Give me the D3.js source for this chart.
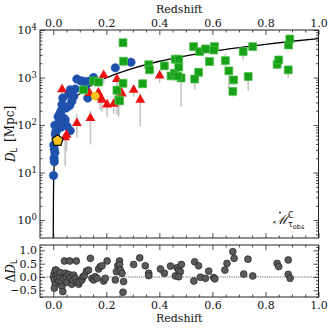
<!DOCTYPE html>
<html>
<head>
<meta charset="utf-8">
<script src="https://cdn.jsdelivr.net/npm/d3@7"></script>
<style>
  html, body { margin: 0; padding: 0; background: #fff; }
  svg { display: block; font-family: "DejaVu Serif", serif; }
</style>
</head>
<body>
<svg id="chart" width="332" height="332"></svg>
<script>
// --- datos ---
// curva del modelo (z, D_L en Mpc)
const lineZ = [0, 0.0001, 0.0003, 0.001, 0.003, 0.01, 0.02, 0.04, 0.07, 0.1, 0.15, 0.2, 0.3, 0.4, 0.5, 0.6, 0.7, 0.8, 0.9, 1.0];
const lineD = [0.3, 0.43, 1.3, 4.3, 13, 43, 87, 178, 320, 460, 720, 980, 1550, 2200, 2850, 3550, 4250, 5000, 5800, 6600];

// círculos azules
const blueZ = [0.001, 0.004, 0.003, 0.006, 0.004, 0.002, 0.008, 0.011, 0.006, 0.015, 0.020, 0.029, 0.036, 0.045, 0.026, 0.064, 0.052, 0.039, 0.029, 0.036, 0.033, 0.049, 0.062, 0.070, 0.077, 0.058, 0.036, 0.064, 0.083, 0.089, 0.104, 0.114, 0.133, 0.152, 0.156, 0.121, 0.130, 0.234, 0.293, 0.010, 0.018, 0.024];
const blueD = [8.7, 17, 20, 26, 31, 38, 63, 76, 99, 82, 110, 90, 110, 129, 129, 76, 94, 141, 195, 229, 270, 229, 257, 316, 400, 446, 370, 550, 575, 930, 850, 830, 830, 1000, 850, 600, 370, 1600, 2100, 70, 150, 170];

// triángulos rojos con barras de error
const redZ  = [0.033, 0.045, 0.050, 0.089, 0.137, 0.140, 0.170, 0.177, 0.184, 0.190, 0.203, 0.228, 0.240, 0.253, 0.259, 0.303, 0.328, 0.401];
const redD  = [560, 55, 62, 110, 470, 140, 480, 380, 340, 1120, 270, 280, 920, 510, 460, 550, 340, 1100];
const redLo = [240, 14, 28, 55, 330, 39, 300, 210, 190, 720, 150, 170, 600, 300, 260, 400, 93, 780];
const redHi = [700, 70, 90, 170, 560, 200, 560, 560, 420, 1300, 330, 340, 1050, 620, 560, 650, 480, 1300];

// cuadrados verdes con barras de error
const greenZ  = [0.114, 0.152, 0.171, 0.240, 0.247, 0.263, 0.265, 0.263, 0.250, 0.337, 0.360, 0.363, 0.419, 0.444, 0.457, 0.460, 0.473, 0.473, 0.482, 0.470, 0.529, 0.552, 0.574, 0.608, 0.605, 0.589, 0.548, 0.533, 0.649, 0.662, 0.680, 0.677, 0.716, 0.752, 0.735, 0.844, 0.850, 0.887, 0.892, 0.886];
const greenD  = [550, 850, 800, 540, 340, 5400, 2200, 760, 325, 740, 1860, 1450, 1760, 1080, 1230, 2430, 2430, 1660, 980, 1070, 4470, 3510, 4000, 4470, 3800, 2170, 1290, 930, 2270, 1380, 890, 510, 3510, 4470, 1050, 1900, 2340, 4840, 6460, 1450];
const greenLo = [480, 760, 700, 165, 150, 5000, 1900, 600, 250, 640, 1600, 1250, 1500, 900, 1050, 2200, 2200, 1400, 245, 900, 4100, 3200, 3700, 4100, 3500, 1900, 1100, 560, 1700, 600, 700, 400, 2400, 4100, 520, 1500, 1500, 4400, 6000, 1000];
const greenHi = [620, 950, 900, 620, 400, 5800, 2500, 850, 360, 840, 2100, 1650, 2000, 1250, 1400, 2650, 2650, 1900, 1100, 1200, 4800, 3800, 4300, 4800, 4100, 2450, 1450, 1000, 3200, 1500, 1000, 600, 3700, 4800, 1200, 2100, 2900, 5200, 7000, 1650];

// puntos amarillos
const pentZ = [0.016], pentD = [47];
const yellowZ = [0.158], yellowD = [410];

// residuos (panel inferior)
const resZ = [0.008, 0.004, 0.001, 0.004, 0.008, 0.004, 0.011, 0.014, 0.016, 0.020, 0.024, 0.026, 0.029, 0.033, 0.036, 0.039, 0.042, 0.045, 0.049, 0.052, 0.058, 0.062, 0.064, 0.070, 0.074, 0.077, 0.083, 0.087, 0.089, 0.096, 0.099, 0.108, 0.112, 0.117, 0.125, 0.133, 0.140, 0.146, 0.152, 0.158, 0.165, 0.171, 0.177, 0.184, 0.190, 0.196, 0.203, 0.234, 0.238, 0.243, 0.250, 0.250, 0.253, 0.259, 0.263, 0.265, 0.303, 0.326, 0.347, 0.360, 0.360, 0.404, 0.419, 0.442, 0.460, 0.467, 0.473, 0.479, 0.483, 0.473, 0.530, 0.533, 0.548, 0.555, 0.574, 0.586, 0.605, 0.609, 0.647, 0.655, 0.677, 0.682, 0.718, 0.734, 0.752, 0.844, 0.850, 0.886, 0.886, 0.893];
const resD = [0.26, 0.14, 0.01, -0.11, -0.27, -0.42, 0.26, 0.07, -0.05, -0.15, 0.01, 0.17, -0.17, -0.36, -0.55, -0.05, 0.60, 0.14, 0.01, -0.20, 0.10, 0.60, -0.02, -0.27, -0.11, 0.07, -0.05, 0.60, -0.20, -0.27, -0.17, -0.11, 0.01, 0.05, 0.22, 0.26, 0.70, -0.05, -0.11, 0.01, -0.05, 0.30, 0.39, 0.42, -0.15, -0.05, 0.60, -0.11, 0.20, 0.42, 0.60, 0.47, 0.26, 0.14, -0.57, -0.17, 0.47, 0.72, 0.42, 0.14, 0.05, 0.30, 0.14, 0.41, 0.04, 0.35, 0.26, 0.20, 0.47, 0.01, -0.15, 0.57, 0.42, -0.01, -0.05, 0.22, -0.02, -0.07, 0.26, 0.51, 0.95, 0.70, 0.11, 0.67, 0.04, 0.51, 0.39, 0.64, 0.10, -0.05];

const zTicks = [0, 0.2, 0.4, 0.6, 0.8, 1.0];

// --- geometría ---
const svg = d3.select('#chart');
const L = 40, R = 318.5;
const top1 = 30, bot1 = 238;
const top2 = 245, bot2 = 297;
const FS = '11px';

const x = d3.scaleLinear().domain([-0.05, 1.0]).range([L, R]);
const y = d3.scaleLog().domain([0.42, 1e4]).range([bot1, top1]);
const yr = d3.scaleLinear().domain([-0.75, 1.2]).range([bot2, top2]);

const minorZ = d3.range(0, 1.0001, 0.05).filter(v => Math.abs(v * 5 - Math.round(v * 5)) > 1e-6);
const majorY = y.ticks().filter(v => Math.abs(Math.log10(v) - Math.round(Math.log10(v))) < 1e-6);
const minorY = y.ticks().filter(v => Math.abs(Math.log10(v) - Math.round(Math.log10(v))) > 1e-6);
const majorR = [-0.5, 0, 0.5, 1.0];
const minorR = d3.range(-0.75, 1.2, 0.125).filter(v => Math.abs(v * 2 - Math.round(v * 2)) > 1e-6);

function styleAxis(g) {
  g.select('.domain').remove();
  g.selectAll('.tick line').attr('stroke', '#222').attr('stroke-width', 0.8);
  g.selectAll('.tick text').attr('font-family', '"DejaVu Serif", serif').attr('font-size', FS).attr('fill', '#111');
}

function xAxes(t, b, labelTop, labelBottom) {
  svg.append('g').attr('transform', `translate(0,${t})`)
    .call(d3.axisTop(x).tickValues(zTicks).tickSize(-5).tickPadding(3)
      .tickFormat(labelTop ? d3.format('.1f') : ''))
    .call(styleAxis);
  svg.append('g').attr('transform', `translate(0,${t})`)
    .call(d3.axisTop(x).tickValues(minorZ).tickSize(-2.5).tickFormat(''))
    .call(styleAxis);
  svg.append('g').attr('transform', `translate(0,${b})`)
    .call(d3.axisBottom(x).tickValues(zTicks).tickSize(-5).tickPadding(4)
      .tickFormat(labelBottom ? d3.format('.1f') : ''))
    .call(styleAxis);
  svg.append('g').attr('transform', `translate(0,${b})`)
    .call(d3.axisBottom(x).tickValues(minorZ).tickSize(-2.5).tickFormat(''))
    .call(styleAxis);
}

// --- panel superior ---
const clip = svg.append('clipPath').attr('id', 'clipTop');
clip.append('rect').attr('x', L).attr('y', top1).attr('width', R - L).attr('height', bot1 - top1);

const gTop = svg.append('g').attr('clip-path', 'url(#clipTop)');

const lineData = lineZ.map((z, i) => [z, lineD[i]]);
gTop.append('path')
  .attr('d', d3.line().x(d => x(d[0])).y(d => y(d[1])).curve(d3.curveMonotoneX)(lineData))
  .attr('fill', 'none').attr('stroke', '#000').attr('stroke-width', 1.3);

// barras de error
const errs = redZ.map((z, i) => [z, redLo[i], redHi[i]])
  .concat(greenZ.map((z, i) => [z, greenLo[i], greenHi[i]]));
gTop.selectAll('.err').data(errs).enter().append('line')
  .attr('class', 'err')
  .attr('x1', d => x(d[0])).attr('x2', d => x(d[0]))
  .attr('y1', d => y(d[1])).attr('y2', d => y(d[2]))
  .attr('stroke', '#c4c4c4').attr('stroke-width', 1.6);

// círculos azules
gTop.selectAll('.blue').data(blueZ.map((z, i) => [z, blueD[i]])).enter().append('circle')
  .attr('class', 'blue')
  .attr('cx', d => x(d[0])).attr('cy', d => y(d[1])).attr('r', 4.3)
  .attr('fill', '#1c50aa').attr('stroke', '#2a5cb3').attr('stroke-width', 0.5);

// triángulos rojos
gTop.selectAll('.red').data(redZ.map((z, i) => [z, redD[i]])).enter().append('path')
  .attr('class', 'red')
  .attr('transform', d => `translate(${x(d[0])},${y(d[1])})`)
  .attr('d', d3.symbol(d3.symbolTriangle, 42))
  .attr('fill', '#ee1111');

// cuadrados verdes
gTop.selectAll('.green').data(greenZ.map((z, i) => [z, greenD[i]])).enter().append('path')
  .attr('class', 'green')
  .attr('transform', d => `translate(${x(d[0])},${y(d[1])})`)
  .attr('d', d3.symbol(d3.symbolSquare, 62))
  .attr('fill', '#17a117').attr('stroke', '#4cbf4c').attr('stroke-width', 0.8);

// pentágono amarillo
const pentagon = {
  draw(ctx, size) {
    const r = Math.sqrt(size / 2.378);
    for (let k = 0; k < 5; k++) {
      const a = -Math.PI / 2 + k * 2 * Math.PI / 5;
      if (k === 0) ctx.moveTo(r * Math.cos(a), r * Math.sin(a));
      else ctx.lineTo(r * Math.cos(a), r * Math.sin(a));
    }
    ctx.closePath();
  }
};
gTop.selectAll('.pent').data(pentZ.map((z, i) => [z, pentD[i]])).enter().append('path')
  .attr('class', 'pent')
  .attr('transform', d => `translate(${x(d[0])},${y(d[1])})`)
  .attr('d', d3.symbol(pentagon, 80))
  .attr('fill', '#f6c419').attr('stroke', '#111').attr('stroke-width', 1.3);

gTop.selectAll('.yel').data(yellowZ.map((z, i) => [z, yellowD[i]])).enter().append('circle')
  .attr('class', 'yel')
  .attr('cx', d => x(d[0])).attr('cy', d => y(d[1])).attr('r', 4.3)
  .attr('fill', '#f6c419');

// marco
svg.append('rect').attr('x', L).attr('y', top1).attr('width', R - L).attr('height', bot1 - top1)
  .attr('fill', 'none').attr('stroke', '#222').attr('stroke-width', 1);

xAxes(top1, bot1, true, false);

// ejes y (log)
function yLogAxis(axisFn, xpos, labels) {
  const g = svg.append('g').attr('transform', `translate(${xpos},0)`)
    .call(axisFn(y).tickValues(majorY).tickSize(-5).tickPadding(3).tickFormat(labels ? d => d : ''))
    .call(styleAxis);
  if (labels) {
    g.selectAll('.tick text').each(function (d) {
      const t = d3.select(this);
      t.text('10');
      t.append('tspan').attr('dy', '-0.45em').attr('font-size', '8.5px').text(Math.round(Math.log10(d)));
    });
  }
  svg.append('g').attr('transform', `translate(${xpos},0)`)
    .call(axisFn(y).tickValues(minorY).tickSize(-2.5).tickFormat(''))
    .call(styleAxis);
}
yLogAxis(d3.axisLeft, L, true);
yLogAxis(d3.axisRight, R, false);

// títulos
svg.append('text').attr('x', (L + R) / 2).attr('y', 13).attr('text-anchor', 'middle')
  .attr('font-size', FS).attr('fill', '#111').text('Redshift');

const yl = svg.append('text')
  .attr('transform', `translate(15,${(top1 + bot1) / 2}) rotate(-90)`)
  .attr('text-anchor', 'middle').attr('font-size', '12px').attr('fill', '#111');
yl.append('tspan').attr('font-style', 'italic').text('D');
yl.append('tspan').attr('dy', '0.3em').attr('font-size', '8px').attr('font-family', '"DejaVu Sans", sans-serif').text('L');
yl.append('tspan').attr('dy', '-0.3em').text('\u2002[Mpc]');

// anotación
const ann = svg.append('g').attr('transform', 'translate(273,224)');
ann.append('text').attr('font-family', '"DejaVu Serif", serif').attr('font-style', 'italic')
  .attr('font-size', '13px').attr('fill', '#111').text('\u2133');
ann.append('circle').attr('cx', 7).attr('cy', -11.5).attr('r', 0.9).attr('fill', '#111');
ann.append('text').attr('x', 15).attr('y', -6).attr('font-family', '"DejaVu Sans", sans-serif')
  .attr('font-size', '8px').attr('fill', '#111').text('C');
const sub = ann.append('text').attr('x', 15).attr('y', 3).attr('font-family', '"DejaVu Sans", sans-serif')
  .attr('font-size', '8px').attr('fill', '#111');
sub.append('tspan').text('\u03c4');
sub.append('tspan').attr('dy', '1.5').attr('font-size', '6.5px').text('obs');

// --- panel inferior ---
svg.append('line').attr('x1', L).attr('x2', R).attr('y1', yr(0)).attr('y2', yr(0))
  .attr('stroke', '#9a9a9a').attr('stroke-width', 1.6).attr('stroke-dasharray', '1.2,1');

svg.selectAll('.res').data(resZ.map((z, i) => [z, resD[i]])).enter().append('circle')
  .attr('class', 'res')
  .attr('cx', d => x(d[0])).attr('cy', d => yr(d[1])).attr('r', 3.4)
  .attr('fill', '#5a5a5a').attr('stroke', '#222').attr('stroke-width', 0.7);

svg.append('rect').attr('x', L).attr('y', top2).attr('width', R - L).attr('height', bot2 - top2)
  .attr('fill', 'none').attr('stroke', '#222').attr('stroke-width', 1);

xAxes(top2, bot2, false, true);

svg.append('g').attr('transform', `translate(${L},0)`)
  .call(d3.axisLeft(yr).tickValues(majorR).tickSize(-5).tickPadding(3).tickFormat(d3.format('.1f')))
  .call(styleAxis);
svg.append('g').attr('transform', `translate(${L},0)`)
  .call(d3.axisLeft(yr).tickValues(minorR).tickSize(-2.5).tickFormat(''))
  .call(styleAxis);
svg.append('g').attr('transform', `translate(${R},0)`)
  .call(d3.axisRight(yr).tickValues(majorR).tickSize(-5).tickFormat(''))
  .call(styleAxis);
svg.append('g').attr('transform', `translate(${R},0)`)
  .call(d3.axisRight(yr).tickValues(minorR).tickSize(-2.5).tickFormat(''))
  .call(styleAxis);

svg.append('text').attr('x', (L + R) / 2).attr('y', 322).attr('text-anchor', 'middle')
  .attr('font-size', FS).attr('fill', '#111').text('Redshift');

const rl = svg.append('text')
  .attr('transform', `translate(15,${(top2 + bot2) / 2}) rotate(-90)`)
  .attr('text-anchor', 'middle').attr('font-size', '12px').attr('fill', '#111');
rl.append('tspan').text('\u0394');
rl.append('tspan').attr('font-style', 'italic').text('D');
rl.append('tspan').attr('dy', '0.3em').attr('font-size', '8px').attr('font-family', '"DejaVu Sans", sans-serif').text('L');
</script>
</body>
</html>
